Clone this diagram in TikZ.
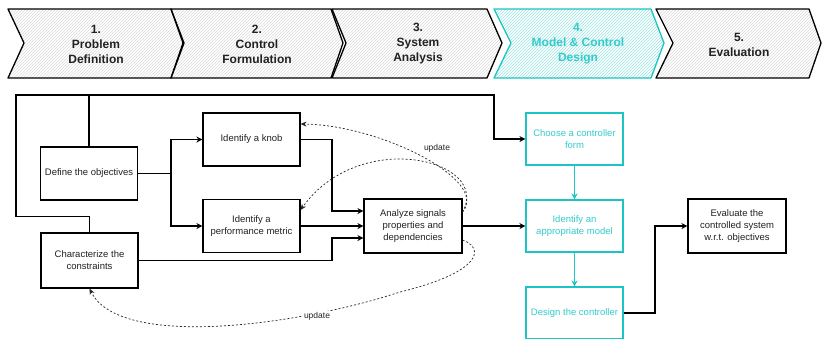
\documentclass[tikz,border=0pt]{standalone}
\usepackage{fontspec}
\setmainfont{Liberation Sans}
\usetikzlibrary{patterns,arrows.meta}
\definecolor{cy}{HTML}{1CC4C4}
\definecolor{cytext}{HTML}{33CCCC}
\definecolor{txt}{HTML}{222222}
\tikzset{
  chev/.style={draw=black, line width=1.3pt, line join=round, pattern=north east lines, pattern color=black!14},
  chevcy/.style={draw=cy, line width=1.3pt, line join=round, pattern=north east lines, pattern color=cy!45},
  chevtext/.style={align=center, font=\fontsize{12}{15}\selectfont\bfseries, text=txt},
  box/.style={draw=black, line width=1.1pt, minimum width=97pt, minimum height=53pt, align=center, inner sep=1pt, font=\fontsize{9.5}{12}\selectfont, text=txt},
  cbox/.style={box, draw=cy, text=cytext},
  conn/.style={draw=black, line width=1.3pt, -{Stealth[length=6pt,width=6pt]}},
  cconn/.style={draw=cy, line width=1.3pt, -{Stealth[length=6pt,width=6pt]}},
  upd/.style={draw=black!85, line width=0.7pt, dash pattern=on 2pt off 2pt, -{Stealth[length=6pt,width=5pt]}},
  updlabel/.style={font=\fontsize{8.5}{10}\selectfont, text=txt, inner sep=1pt}
}
\begin{document}
\begin{tikzpicture}[x=1pt,y=-1pt]
\useasboundingbox (0,0) rectangle (822,338);
\clip (0,0) rectangle (822,338);
\fill[white] (0,0) rectangle (822,338);
% chevrons
\path[chev] (8,9) -- (171,9) -- (183,43) -- (171,78) -- (8,78) -- (24,43) -- cycle;
\path[chev] (171,9) -- (331,9) -- (343,43) -- (331,78) -- (171,78) -- (184,43) -- cycle;
\path[chev] (332,9) -- (487,9) -- (502,43) -- (487,78) -- (332,78) -- (346,43) -- cycle;
\path[chevcy] (494,9) -- (651,9) -- (664,43) -- (651,78) -- (494,78) -- (511,43) -- cycle;
\path[chev] (656,9) -- (809,9) -- (821,43) -- (809,78) -- (656,78) -- (673,43) -- cycle;
\node[chevtext] (c1) at (96,44) {1.\\Problem\\Definition};
\node[chevtext] (c2) at (257,44) {2.\\Control\\Formulation};
\node[chevtext] (c3) at (418,44) {3.\\System\\Analysis};
\node[chevtext, text=cytext] (c4) at (578,44) {4.\\Model \& Control\\Design};
\node[chevtext] (c5) at (739,44.5) {5.\\Evaluation};
% boxes
\node[box] (obj) at (89,173.5) {Define the objectives};
\node[box] (knob) at (251.5,139.5) {Identify a knob};
\node[box] (metric) at (251.5,226) {Identify a\\performance metric};
\node[box, minimum height=55pt] (cons) at (89.5,260.5) {Characterize the\\constraints};
\node[box, minimum width=98pt, minimum height=54pt] (ana) at (413,226) {Analyze signals\\properties and\\dependencies};
\node[cbox, minimum height=52pt] (choose) at (574.5,139) {Choose a controller\\form};
\node[cbox, minimum height=52pt] (model) at (574.5,226) {Identify an\\appropriate model};
\node[cbox, minimum height=52pt] (design) at (574.5,313) {Design the controller};
\node[box, minimum width=98pt, minimum height=54pt] (eval) at (737,226) {Evaluate the\\controlled system\\w.r.t. objectives};
% helper coordinates
\coordinate (L) at (16,95);
\coordinate (R) at (494,95);
\coordinate (j1) at (171,0);
\coordinate (j2) at (332,0);
\coordinate (j3) at (655,0);
% loop connector
\draw[line width=1.3pt] (obj.north) -- (obj.north |- L);
\draw[conn] (cons.north) -- ([yshift=16pt]cons.north) -| (L) -- (R) |- (choose.west);
% define objectives to knob / metric
\draw[conn] (obj.east) -- (obj.east -| j1) |- (knob.west);
\draw[conn] (obj.east -| j1) |- (metric.west);
% to analyze
\draw[conn] (knob.east) -- (knob.east -| j2) |- ([yshift=15pt]ana.west);
\draw[conn] (metric.east) -- (ana.west);
\draw[conn] (cons.east) -- (cons.east -| j2) |- ([yshift=-12pt]ana.west);
\draw[conn] (ana.east) -- (model.west);
% cyan chain
\draw[cconn] (choose.south) -- (model.north);
\draw[cconn] (model.south) -- (design.north);
\draw[conn] (design.east) -- (design.east -| j3) |- (eval.west);
% update curves
\draw[upd] ([yshift=14pt]ana.east) .. controls (490,180) and (380,125) .. ([yshift=15.5pt]knob.east);
\draw[upd] ([yshift=14pt]ana.east) .. controls (492,160) and (360,127) .. ([yshift=16pt]metric.east);
\node[updlabel] (u1) at (437,148) {update};
\draw[upd] ([yshift=-14pt]ana.east) .. controls (485,248) and (482,272) .. (400,292)
  .. controls (300,325) and (120,350) .. (cons.south);
\node[updlabel, fill=white] (u2) at (317,316) {update};
\end{tikzpicture}
\end{document}
